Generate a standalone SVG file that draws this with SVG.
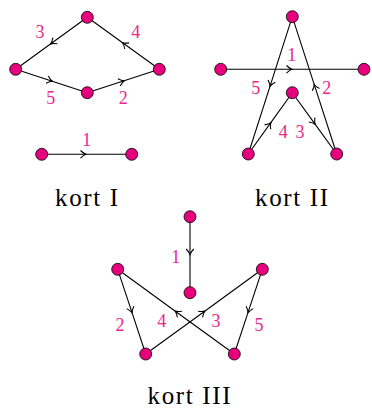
<svg xmlns="http://www.w3.org/2000/svg" width="372" height="409" viewBox="0 0 372 409">
<style>
.e{stroke:#000;stroke-width:1.1;fill:none;marker-mid:url(#a)}
.n{fill:#e6007e;stroke:#000;stroke-width:0.8}
.l{font-family:"Liberation Serif",serif;font-size:18px;fill:#e8288c;text-anchor:middle}
.t{font-family:"Liberation Serif",serif;font-size:25px;fill:#000;text-anchor:middle}
</style>
<defs>
<marker id="a" markerUnits="userSpaceOnUse" viewBox="-6 -5 8 10" markerWidth="8" markerHeight="10" refX="0" refY="0" orient="auto">
<path d="M-4.5,-3.8 Q-1.5,-0.8 1,0 Q-1.5,0.8 -4.5,3.8" stroke="#000" stroke-width="1.1" fill="none"/>
</marker>
</defs>
<g id="connectors">
<path class="e" d="M87.3,17.3 L51.5,43.3 L15.7,69.3"/>
<path class="e" d="M159.3,69.3 L123.3,43.3 L87.3,17.3"/>
<path class="e" d="M15.7,69.3 L51.5,81 L87.3,92.7"/>
<path class="e" d="M87.3,92.7 L123.3,81 L159.3,69.3"/>
<path class="e" d="M41.7,154.3 L85,154.3 L131.7,154.3"/>
<path class="e" d="M220.7,69.3 L291,69.3 L364,69.3"/>
<path class="e" d="M292.3,16.7 L270.3,85.4 L248.3,154"/>
<path class="e" d="M336.7,154 L314.5,85.4 L292.3,16.7"/>
<path class="e" d="M248.3,154 L270.3,123.4 L292.3,92.7"/>
<path class="e" d="M292.3,92.7 L314.5,123.4 L336.7,154"/>
<path class="e" d="M190,216.7 L190,253.5 L190,292.7"/>
<path class="e" d="M117.7,269.3 L131.7,311.7 L145.7,354"/>
<path class="e" d="M262.3,269.3 L248.3,311.7 L234.3,354"/>
<path class="e" d="M234.3,354 L176,311.7 L117.7,269.3"/>
<path class="e" d="M145.7,354 L204,311.7 L262.3,269.3"/>
</g>
<g id="kort1">
<circle class="n" cx="87.3" cy="17.3" r="6"/>
<circle class="n" cx="15.7" cy="69.3" r="6"/>
<circle class="n" cx="87.3" cy="92.7" r="6"/>
<circle class="n" cx="159.3" cy="69.3" r="6"/>
<circle class="n" cx="41.7" cy="154.3" r="6"/>
<circle class="n" cx="131.7" cy="154.3" r="6"/>
<text class="l" x="40" y="38">3</text>
<text class="l" x="135.7" y="38">4</text>
<text class="l" x="50.7" y="103.5">5</text>
<text class="l" x="123.3" y="103.5">2</text>
<text class="l" x="86.7" y="146">1</text>
<text class="t" x="86.5" y="206" textLength="63">kort I</text>
</g>
<g id="kort2">
<circle class="n" cx="292.3" cy="16.7" r="6"/>
<circle class="n" cx="220.7" cy="69.3" r="6"/>
<circle class="n" cx="364" cy="69.3" r="6"/>
<circle class="n" cx="292.3" cy="92.7" r="6"/>
<circle class="n" cx="248.3" cy="154" r="6"/>
<circle class="n" cx="336.7" cy="154" r="6"/>
<text class="l" x="291.7" y="61">1</text>
<text class="l" x="255.7" y="93.5">5</text>
<text class="l" x="326.7" y="93.5">2</text>
<text class="l" x="283.3" y="138">4</text>
<text class="l" x="300" y="138">3</text>
<text class="t" x="291.5" y="206" textLength="73">kort II</text>
</g>
<g id="kort3">
<circle class="n" cx="190" cy="216.7" r="6"/>
<circle class="n" cx="190" cy="292.7" r="6"/>
<circle class="n" cx="117.7" cy="269.3" r="6"/>
<circle class="n" cx="262.3" cy="269.3" r="6"/>
<circle class="n" cx="145.7" cy="354" r="6"/>
<circle class="n" cx="234.3" cy="354" r="6"/>
<text class="l" x="175.7" y="262.5">1</text>
<text class="l" x="120" y="330.5">2</text>
<text class="l" x="259" y="330.5">5</text>
<text class="l" x="161.7" y="327">4</text>
<text class="l" x="216" y="327">3</text>
<text class="t" x="189" y="404" textLength="83">kort III</text>
</g>
</svg>
